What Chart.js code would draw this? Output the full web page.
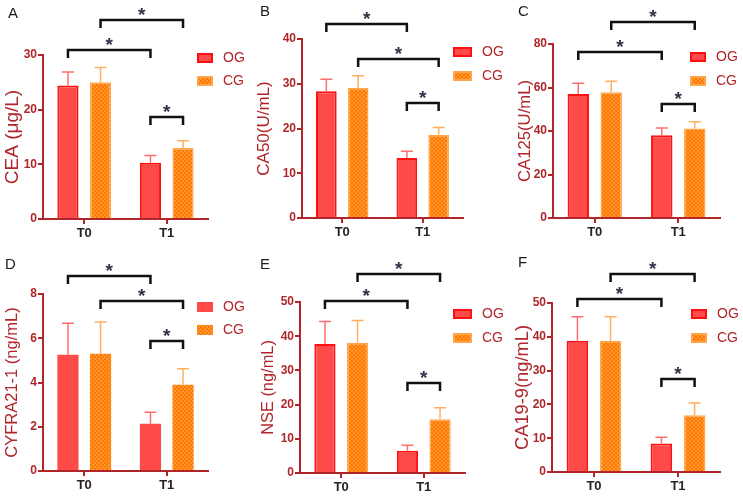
<!DOCTYPE html>
<html>
<head>
<meta charset="utf-8">
<script src="https://cdn.jsdelivr.net/npm/chart.js@4.4.0/dist/chart.umd.min.js"></script>
<style>
  html, body { margin: 0; padding: 0; background: #fff; }
  #wrap { position: relative; width: 743px; height: 500px; overflow: hidden; }
  #wrap canvas { position: absolute; }
</style>
</head>
<body>
<div id="wrap">
  <canvas id="cA" width="245" height="250" style="left:0;top:0"></canvas>
  <canvas id="cB" width="275" height="250" style="left:245px;top:0"></canvas>
  <canvas id="cC" width="250" height="250" style="left:493px;top:0"></canvas>
  <canvas id="cD" width="245" height="250" style="left:0;top:250px"></canvas>
  <canvas id="cE" width="275" height="250" style="left:245px;top:250px"></canvas>
  <canvas id="cF" width="250" height="250" style="left:493px;top:250px"></canvas>
</div>
<script>
// ---- data ----
const categories = ['T0', 'T1'];
const seriesNames = ['OG', 'CG'];

// A: CEA
const ceaOG = [24.4, 10.3];
const ceaOGErr = [2.5, 1.3];
const ceaCG = [25.0, 13.0];
const ceaCGErr = [2.7, 1.3];
const ceaTicks = [0, 10, 20, 30];
const ceaBrackets = [31.0, 36.4, 18.7];

// B: CA50
const ca50OG = [28.3, 13.4];
const ca50OGErr = [2.7, 1.5];
const ca50CG = [29.1, 18.6];
const ca50CGErr = [2.7, 1.6];
const ca50Ticks = [0, 10, 20, 30, 40];
const ca50Brackets = [43.4, 35.6, 25.8];

// C: CA125
const ca125OG = [57.0, 38.0];
const ca125OGErr = [5.0, 3.4];
const ca125CG = [57.8, 41.2];
const ca125CGErr = [5.1, 3.1];
const ca125Ticks = [0, 20, 40, 60, 80];
const ca125Brackets = [76.2, 90.1, 52.4];

// D: CYFRA21-1
const cyfraOG = [5.25, 2.13];
const cyfraOGErr = [1.43, 0.53];
const cyfraCG = [5.3, 3.9];
const cyfraCGErr = [1.43, 0.72];
const cyfraTicks = [0, 2, 4, 6, 8];
const cyfraBrackets = [8.8, 7.67, 5.86];

// E: NSE
const nseOG = [37.7, 6.5];
const nseOGErr = [6.6, 1.6];
const nseCG = [38.1, 15.7];
const nseCGErr = [6.5, 3.4];
const nseTicks = [0, 10, 20, 30, 40, 50];
const nseBrackets = [50.2, 58.2, 26.4];

// F: CA19-9
const ca199OG = [38.8, 8.4];
const ca199OGErr = [7.1, 1.9];
const ca199CG = [38.8, 16.8];
const ca199CGErr = [7.1, 3.6];
const ca199Ticks = [0, 10, 20, 30, 40, 50];
const ca199Brackets = [51.1, 58.7, 27.4];

// each bracket joins [dataset, index] -> [dataset, index]: OG T0-T1, CG T0-T1, OG T1-CG T1
const bracketPairs = [[0, 0, 0, 1], [1, 0, 1, 1], [0, 1, 1, 1]];

// ---- styling ----
const FONT = '"Liberation Sans", Arial, sans-serif';
Chart.defaults.font.family = FONT;
const axisRed = '#b0262b';
const ogFill = '#ff4a4a';
const ogBorder = '#ff1010';
const cgBorder = '#ffa64d';
const ogErrColor = '#ff6e6e';
const cgErrColor = '#ffb061';

function checker(a, b, s) {
  const c = document.createElement('canvas');
  c.width = c.height = s * 2;
  const x = c.getContext('2d');
  x.fillStyle = a;
  x.fillRect(0, 0, s * 2, s * 2);
  x.fillStyle = b;
  x.fillRect(0, 0, s, s);
  x.fillRect(s, s, s, s);
  return x.createPattern(c, 'repeat');
}
const cgFill = checker('#ff9630', '#ff7800', 2);

const markup = {
  id: 'markup',
  afterDatasetsDraw(chart, args, o) {
    const ctx = chart.ctx, y = chart.scales.y;
    ctx.save();
    ctx.lineWidth = 1.5;
    o.errors.forEach((errs, di) => {
      const vals = chart.data.datasets[di].data;
      ctx.strokeStyle = di === 0 ? ogErrColor : cgErrColor;
      chart.getDatasetMeta(di).data.forEach((bar, i) => {
        const top = y.getPixelForValue(vals[i] + errs[i]);
        ctx.beginPath();
        ctx.moveTo(bar.x, bar.y);
        ctx.lineTo(bar.x, top);
        ctx.moveTo(bar.x - 6, top);
        ctx.lineTo(bar.x + 6, top);
        ctx.stroke();
      });
    });
    ctx.restore();
  },
  afterDraw(chart, args, o) {
    const ctx = chart.ctx, y = chart.scales.y;
    ctx.save();
    // significance brackets
    ctx.strokeStyle = '#111';
    ctx.lineWidth = 2.5;
    ctx.lineJoin = 'miter';
    ctx.fillStyle = '#2f3447';
    ctx.font = 'bold 19px ' + FONT;
    ctx.textAlign = 'center';
    ctx.textBaseline = 'alphabetic';
    o.brackets.forEach((level, k) => {
      const [d1, i1, d2, i2] = bracketPairs[k];
      const x1 = chart.getDatasetMeta(d1).data[i1].x;
      const x2 = chart.getDatasetMeta(d2).data[i2].x;
      const yy = Math.round(y.getPixelForValue(level));
      ctx.beginPath();
      ctx.moveTo(x1, yy + 8);
      ctx.lineTo(x1, yy);
      ctx.lineTo(x2, yy);
      ctx.lineTo(x2, yy + 8);
      ctx.stroke();
      ctx.fillText('*', (x1 + x2) / 2, yy + 1);
    });
    // legend
    const lg = o.legend;
    ctx.textAlign = 'left';
    ctx.textBaseline = 'middle';
    ctx.font = '14px ' + FONT;
    chart.data.datasets.forEach((ds, k) => {
      const by = lg.y + k * lg.gap;
      ctx.fillStyle = k === 0 ? ogFill : cgFill;
      ctx.fillRect(lg.x, by, lg.w, 10);
      if (o.outline) {
        ctx.strokeStyle = k === 0 ? ogBorder : cgBorder;
        ctx.lineWidth = 2;
        ctx.strokeRect(lg.x + 1, by + 1, lg.w - 2, 8);
      }
      ctx.fillStyle = axisRed;
      ctx.fillText(ds.label, lg.x + lg.w + 10, by + 5.5);
    });
    // panel letter
    ctx.fillStyle = '#1c1c1c';
    ctx.font = '15px ' + FONT;
    ctx.textBaseline = 'top';
    ctx.fillText(o.letter, o.letterPos[0], o.letterPos[1]);
    ctx.restore();
  }
};

const panels = [
  { id: 'cA', letter: 'A', title: 'CEA (μg/L)', og: ceaOG, ogErr: ceaOGErr, cg: ceaCG, cgErr: ceaCGErr,
    ticks: ceaTicks, brackets: ceaBrackets,
    layout: { top: 55, right: 37, yw: 43, xh: 31, tsize: 19, tcenter: 13, legend: { x: 197, y: 53, gap: 23, w: 16 }, letterPos: [8, 6], outline: true } },
  { id: 'cB', letter: 'B', title: 'CA50(U/mL)', og: ca50OG, ogErr: ca50OGErr, cg: ca50CG, cgErr: ca50CGErr,
    ticks: ca50Ticks, brackets: ca50Brackets,
    layout: { top: 39, right: 57, yw: 57, xh: 32, tsize: 17, tcenter: 19, legend: { x: 208, y: 47, gap: 24, w: 19 }, letterPos: [15, 4], outline: true } },
  { id: 'cC', letter: 'C', title: 'CA125(U/mL)', og: ca125OG, ogErr: ca125OGErr, cg: ca125CG, cgErr: ca125CGErr,
    ticks: ca125Ticks, brackets: ca125Brackets,
    layout: { top: 44, right: 23, yw: 60, xh: 32, tsize: 16.7, tcenter: 32, legend: { x: 197, y: 52, gap: 24, w: 16 }, letterPos: [25, 4], outline: true } },
  { id: 'cD', letter: 'D', title: 'CYFRA21-1 (ng/mL)', og: cyfraOG, ogErr: cyfraOGErr, cg: cyfraCG, cgErr: cyfraCGErr,
    ticks: cyfraTicks, brackets: cyfraBrackets,
    layout: { top: 44, right: 37, yw: 43, xh: 29, tsize: 16.5, tcenter: 12, legend: { x: 197, y: 52, gap: 23, w: 16 }, letterPos: [5, 7], outline: false } },
  { id: 'cE', letter: 'E', title: 'NSE (ng/mL)', og: nseOG, ogErr: nseOGErr, cg: nseCG, cgErr: nseCGErr,
    ticks: nseTicks, brackets: nseBrackets,
    layout: { top: 52, right: 55, yw: 55, xh: 27, tsize: 16.4, tcenter: 23, legend: { x: 208, y: 59, gap: 24, w: 19 }, letterPos: [15, 7], outline: true } },
  { id: 'cF', letter: 'F', title: 'CA19-9(ng/mL)', og: ca199OG, ogErr: ca199OGErr, cg: ca199CG, cgErr: ca199CGErr,
    ticks: ca199Ticks, brackets: ca199Brackets,
    layout: { top: 53, right: 23, yw: 59, xh: 28, tsize: 18.3, tcenter: 30, legend: { x: 198, y: 59, gap: 24, w: 16 }, letterPos: [25, 5], outline: true } }
];

panels.forEach(p => {
  const L = p.layout;
  new Chart(document.getElementById(p.id), {
    type: 'bar',
    data: {
      labels: categories,
      datasets: [
        { label: seriesNames[0], data: p.og, backgroundColor: ogFill, borderColor: ogBorder, borderWidth: L.outline ? 2 : 0 },
        { label: seriesNames[1], data: p.cg, backgroundColor: cgFill, borderColor: cgBorder, borderWidth: L.outline ? 1.5 : 0 }
      ]
    },
    options: {
      responsive: false,
      animation: false,
      categoryPercentage: 0.79,
      barPercentage: 0.65,
      layout: { padding: { top: L.top, right: L.right, left: 0, bottom: 0 } },
      plugins: {
        legend: { display: false },
        tooltip: { enabled: false },
        markup: {
          errors: [p.ogErr, p.cgErr],
          brackets: p.brackets,
          legend: L.legend,
          letter: p.letter,
          letterPos: L.letterPos,
          outline: L.outline
        }
      },
      scales: {
        x: {
          afterFit: s => { s.height = L.xh; },
          border: { color: axisRed, width: 2 },
          grid: { offset: false, drawOnChartArea: false, tickLength: 5, color: axisRed, lineWidth: 2 },
          ticks: { color: '#2a2222', padding: 2, font: { size: 13, weight: 'bold' } }
        },
        y: {
          min: p.ticks[0],
          max: p.ticks[p.ticks.length - 1],
          afterFit: s => { s.width = L.yw; },
          afterBuildTicks: s => { s.ticks = p.ticks.map(v => ({ value: v })); },
          border: { color: axisRed, width: 2 },
          grid: { drawOnChartArea: false, tickLength: 5, color: axisRed, lineWidth: 2 },
          ticks: { color: axisRed, padding: 1, font: { size: 12, weight: 'bold' } },
          title: {
            display: true,
            text: p.title,
            color: axisRed,
            font: { size: L.tsize },
            padding: { top: L.tcenter - L.tsize * 0.6, bottom: 0 }
          }
        }
      }
    },
    plugins: [markup]
  });
});
</script>
</body>
</html>
